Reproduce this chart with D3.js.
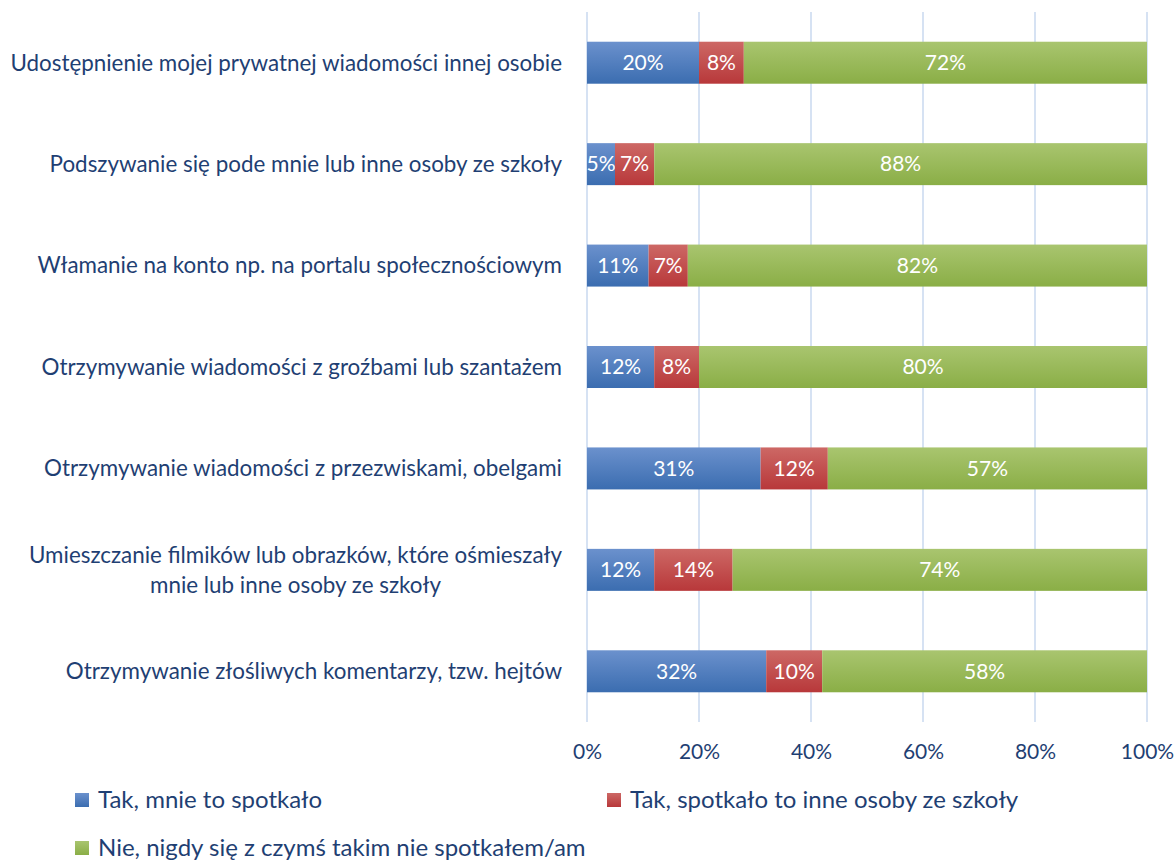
<!DOCTYPE html>
<html>
<head>
<meta charset="utf-8">
<script src="https://cdn.jsdelivr.net/npm/d3@7"></script>
<style>
  body { margin: 0; background: #fff; }
  svg { display: block; font-family: Lato, "Open Sans", sans-serif; }
</style>
</head>
<body>
<div id="chart"></div>
<script>
const categories = [
  ["Udostępnienie mojej prywatnej wiadomości innej osobie"],
  ["Podszywanie się pode mnie lub inne osoby ze szkoły"],
  ["Włamanie na konto np. na portalu społecznościowym"],
  ["Otrzymywanie wiadomości z groźbami lub szantażem"],
  ["Otrzymywanie wiadomości z przezwiskami, obelgami"],
  ["Umieszczanie filmików lub obrazków, które ośmieszały", "mnie lub inne osoby ze szkoły"],
  ["Otrzymywanie złośliwych komentarzy, tzw. hejtów"]
];
const seriesNames = ["Tak, mnie to spotkało", "Tak, spotkało to inne osoby ze szkoły", "Nie, nigdy się z czymś takim nie spotkałem/am"];
const yesMe = [20, 5, 11, 12, 31, 12, 32];
const yesOthers = [8, 7, 7, 8, 12, 14, 10];
const never = [72, 88, 82, 80, 57, 74, 58];
const xTicks = [0, 20, 40, 60, 80, 100];

const colors = [
  { top: "#6b91cd", bottom: "#3b6db0" },
  { top: "#cd6865", bottom: "#b8383a" },
  { top: "#a9c56f", bottom: "#8aae46" }
];
const textColor = "#1f3f73";

const width = 1176, height = 862;
const margin = { left: 587, right: 29, top: 12, bottom: 140 };

const svg = d3.select("#chart").append("svg")
  .attr("width", width).attr("height", height);

const defs = svg.append("defs");
colors.forEach((c, i) => {
  const g = defs.append("linearGradient").attr("id", "grad" + i)
    .attr("x1", 0).attr("y1", 0).attr("x2", 0).attr("y2", 1);
  g.append("stop").attr("offset", "0%").attr("stop-color", c.top);
  g.append("stop").attr("offset", "100%").attr("stop-color", c.bottom);
});

const x = d3.scaleLinear().domain([0, 100]).range([margin.left, width - margin.right]);
const y = d3.scaleBand().domain(d3.range(categories.length))
  .range([margin.top, height - margin.bottom]).paddingInner(0.586).paddingOuter(0.293);

// gridlines
svg.append("g").selectAll("line").data(xTicks).enter().append("line")
  .attr("x1", d => x(d)).attr("x2", d => x(d))
  .attr("y1", margin.top).attr("y2", height - margin.bottom)
  .attr("stroke", "#d6e2f3").attr("stroke-width", 2);

// x axis labels
const xAxis = svg.append("g")
  .attr("transform", `translate(0,${height - margin.bottom})`)
  .call(d3.axisBottom(x).tickValues(xTicks).tickFormat(d => d + "%").tickSize(0).tickPadding(22));
xAxis.select(".domain").remove();
xAxis.selectAll("text").attr("fill", textColor).style("font-size", "21px")
  .style("font-family", "Lato, sans-serif");

// stacked data
const rows = categories.map((c, i) => ({ idx: i, values: [yesMe[i], yesOthers[i], never[i]] }));
const stack = d3.stack().keys([0, 1, 2]).value((d, k) => d.values[k]);
const stacked = stack(rows);

const layers = svg.append("g").selectAll("g").data(stacked).enter().append("g")
  .attr("fill", (d, i) => `url(#grad${i})`);

layers.selectAll("rect").data(d => d).enter().append("rect")
  .attr("x", d => x(d[0]))
  .attr("y", d => y(d.data.idx))
  .attr("width", d => x(d[1]) - x(d[0]))
  .attr("height", y.bandwidth());

layers.selectAll("text").data(d => d).enter().append("text")
  .attr("x", d => (x(d[0]) + x(d[1])) / 2)
  .attr("y", d => y(d.data.idx) + y.bandwidth() / 2)
  .attr("dy", "0.35em")
  .attr("text-anchor", "middle")
  .attr("fill", "#fff")
  .style("font-size", "21px")
  .text(d => (d[1] - d[0]) + "%");

// category labels
const labelRight = margin.left - 25;
const labels = svg.append("g").selectAll("text").data(categories).enter().append("text")
  .attr("fill", textColor)
  .style("font-size", "22.4px")
  .attr("text-anchor", "middle");

labels.each(function(lines, i) {
  const t = d3.select(this);
  const cy = y(i) + y.bandwidth() / 2;
  const lh = 30;
  const y0 = cy - (lines.length - 1) * lh / 2;
  lines.forEach((ln, j) => {
    t.append("tspan").attr("y", y0 + j * lh).attr("dy", "0.35em").text(ln);
  });
  const w = d3.max(t.selectAll("tspan").nodes(), n => n.getComputedTextLength());
  t.selectAll("tspan").attr("x", labelRight - w / 2);
});

// legend
const legendItems = [
  { i: 0, x: 75, y: 800 },
  { i: 1, x: 607, y: 800 },
  { i: 2, x: 75, y: 848 }
];
const legend = svg.append("g").selectAll("g").data(legendItems).enter().append("g")
  .attr("transform", d => `translate(${d.x},${d.y})`);
legend.append("rect").attr("x", 0).attr("y", -7).attr("width", 14).attr("height", 14)
  .attr("fill", d => `url(#grad${d.i})`);
legend.append("text").attr("x", 23).attr("dy", "0.35em")
  .attr("fill", textColor).style("font-size", "24px")
  .text(d => seriesNames[d.i]);
</script>
</body>
</html>
